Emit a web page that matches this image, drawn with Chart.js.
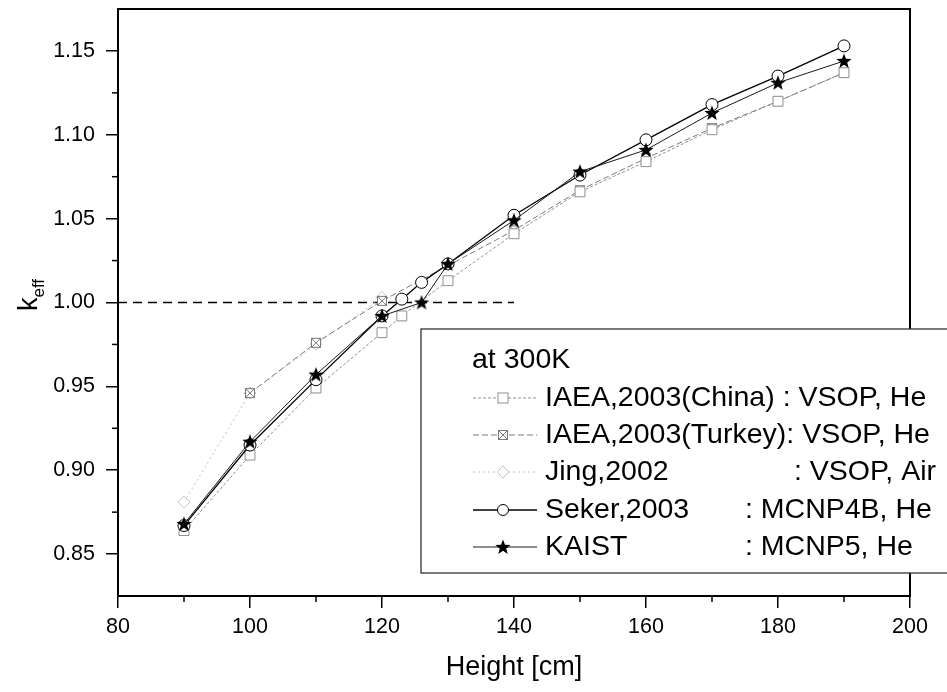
<!DOCTYPE html>
<html>
<head>
<meta charset="utf-8">
<script src="https://cdn.jsdelivr.net/npm/chart.js@4.4.1/dist/chart.umd.min.js"></script>
<style>
  html, body { margin: 0; padding: 0; background: #fff; }
  #wrap { position: relative; width: 947px; height: 692px; }
</style>
</head>
<body>
<div id="wrap"><canvas id="keffChart" width="947" height="692"></canvas></div>
<script>
// k_eff vs core height
const chinaH = [90, 100, 110, 120, 123, 130, 140, 150, 160, 170, 180, 190];
const chinaK = [0.864, 0.909, 0.949, 0.982, 0.992, 1.013, 1.041, 1.066, 1.084, 1.103, 1.120, 1.137];

const turkeyH = [100, 110, 120, 140, 150, 160, 170, 180, 190];
const turkeyK = [0.946, 0.976, 1.001, 1.043, 1.067, 1.086, 1.104, 1.120, 1.137];

const jingH = [90, 100, 110, 120];
const jingK = [0.881, 0.946, 0.975, 1.003];

const sekerH = [90, 100, 110, 120, 123, 126, 130, 140, 150, 160, 170, 180, 190];
const sekerK = [0.867, 0.915, 0.954, 0.992, 1.002, 1.012, 1.023, 1.052, 1.076, 1.097, 1.118, 1.135, 1.153];

const kaistH = [90, 100, 110, 120, 126, 130, 140, 150, 160, 170, 180, 190];
const kaistK = [0.868, 0.917, 0.957, 0.992, 1.000, 1.023, 1.049, 1.078, 1.091, 1.113, 1.131, 1.144];

// critical line k = 1.00 drawn from 80 to 140 cm
const critH = [80, 140];
const critK = [1.0, 1.0];

const xTicks = [80, 100, 120, 140, 160, 180, 200];
const yTicks = [0.85, 0.90, 0.95, 1.00, 1.05, 1.10, 1.15];

const legendTitle = "at 300K";
const legendNames = ["IAEA,2003(China)", "IAEA,2003(Turkey)", "Jing,2002", "Seker,2003", "KAIST"];
const legendNotes = [" : VSOP, He", ": VSOP, He", ": VSOP, Air", ": MCNP4B, He", ": MCNP5, He"];

const FONT = "'Liberation Sans', Arial, Helvetica, sans-serif";

const toPoints = (xs, ys) => xs.map((x, i) => ({ x: x, y: ys[i] }));

// filled star marker
const makeStar = (size, color) => {
  const c = document.createElement("canvas");
  c.width = size; c.height = size;
  const g = c.getContext("2d");
  const cx = size / 2, cy = size / 2 + 0.5, ro = size / 2, ri = ro * 0.42;
  g.beginPath();
  for (let i = 0; i < 10; i++) {
    const r = i % 2 ? ri : ro;
    const a = -Math.PI / 2 + (i * Math.PI) / 5;
    g.lineTo(cx + r * Math.cos(a), cy + r * Math.sin(a));
  }
  g.closePath();
  g.fillStyle = color;
  g.fill();
  return c;
};

// square with an X inside
const makeCrossSquare = (size, color) => {
  const c = document.createElement("canvas");
  c.width = size; c.height = size;
  const g = c.getContext("2d");
  g.fillStyle = "#fff";
  g.fillRect(1, 1, size - 2, size - 2);
  g.strokeStyle = color;
  g.lineWidth = 1;
  g.strokeRect(1.5, 1.5, size - 3, size - 3);
  g.beginPath();
  g.moveTo(2, 2); g.lineTo(size - 2, size - 2);
  g.moveTo(size - 2, 2); g.lineTo(2, size - 2);
  g.stroke();
  return c;
};

const starImg = makeStar(16, "#000");
const crossImg = makeCrossSquare(12, "#7a7a7a");

const series = [
  { name: "china", data: toPoints(chinaH, chinaK), color: "#8f8f8f", dash: [3, 2], width: 1,
    style: "rect", radius: 7, bg: "#fff", order: 2 },
  { name: "turkey", data: toPoints(turkeyH, turkeyK), color: "#7a7a7a", dash: [6, 3], width: 1,
    style: crossImg, radius: 6, bg: "#fff", order: 3 },
  { name: "jing", data: toPoints(jingH, jingK), color: "#c2c2c2", dash: [2, 3], width: 1,
    style: "rectRot", radius: 6, bg: "#fff", order: 4 },
  { name: "seker", data: toPoints(sekerH, sekerK), color: "#000", dash: [], width: 1.3,
    style: "circle", radius: 6, bg: "#fff", order: 1 },
  { name: "kaist", data: toPoints(kaistH, kaistK), color: "#1a1a1a", dash: [], width: 1,
    style: starImg, radius: 8, bg: "#000", order: 0 },
];

const datasets = series.map((s) => ({
  label: s.name,
  data: s.data,
  borderColor: s.color,
  borderWidth: s.width,
  borderDash: s.dash,
  pointStyle: s.style,
  pointRadius: s.radius,
  pointBackgroundColor: s.bg,
  pointBorderColor: s.color,
  pointBorderWidth: 1,
  fill: false,
  tension: 0,
  order: s.order,
}));

datasets.push({
  label: "critical",
  data: toPoints(critH, critK),
  borderColor: "#000",
  borderWidth: 1.6,
  borderDash: [9, 6],
  pointRadius: 0,
  fill: false,
  order: 5,
});

const drawLine = (ctx, x1, y1, x2, y2) => {
  ctx.beginPath();
  ctx.moveTo(x1, y1);
  ctx.lineTo(x2, y2);
  ctx.stroke();
};

// frame, minor ticks, y title and the boxed legend
const decorPlugin = {
  id: "decor",
  afterDraw(chart) {
    const { ctx, chartArea: a, scales } = chart;
    const x = scales.x, y = scales.y;
    ctx.save();

    ctx.strokeStyle = "#000";
    ctx.lineWidth = 2;
    ctx.setLineDash([]);
    ctx.strokeRect(a.left, a.top, a.right - a.left, a.bottom - a.top);

    // minor ticks halfway between the major ones
    ctx.lineWidth = 1.5;
    for (let i = 0; i < xTicks.length - 1; i++) {
      const px = x.getPixelForValue((xTicks[i] + xTicks[i + 1]) / 2);
      drawLine(ctx, px, a.bottom, px, a.bottom + 6);
    }
    for (let i = 0; i < yTicks.length - 1; i++) {
      const py = y.getPixelForValue((yTicks[i] + yTicks[i + 1]) / 2);
      drawLine(ctx, a.left - 6, py, a.left, py);
    }

    // y title k_eff
    ctx.save();
    ctx.translate(37, 311);
    ctx.rotate(-Math.PI / 2);
    ctx.fillStyle = "#000";
    ctx.textBaseline = "alphabetic";
    ctx.font = "27px " + FONT;
    ctx.fillText("k", 0, 0);
    const kw = ctx.measureText("k").width;
    ctx.font = "17px " + FONT;
    ctx.fillText("eff", kw, 7);
    ctx.restore();

    // legend box
    const bx = 421, by = 329, bb = 573;
    ctx.fillStyle = "#fff";
    ctx.fillRect(bx, by, 947 - bx + 5, bb - by);
    ctx.strokeStyle = "#333";
    ctx.lineWidth = 1.3;
    ctx.strokeRect(bx, by, 947 - bx + 10, bb - by);

    const legendFont = "28.5px " + FONT;
    ctx.fillStyle = "#000";
    ctx.font = legendFont;
    ctx.textBaseline = "middle";
    ctx.textAlign = "left";
    ctx.fillText(legendTitle, 472, 360);

    const rowY = [398, 435, 472, 510, 547];
    const textX = 545;
    legendNames.forEach((name, i) => {
      const s = series[i];
      const ry = rowY[i];
      ctx.strokeStyle = s.color;
      ctx.lineWidth = s.width;
      ctx.setLineDash(s.dash);
      drawLine(ctx, 473, ry, 537, ry);
      ctx.setLineDash([]);
      const mx = 503;
      // marker
      if (s.style === "rect") {
        ctx.fillStyle = "#fff";
        ctx.fillRect(mx - 5, ry - 5, 10, 10);
        ctx.lineWidth = 1;
        ctx.strokeRect(mx - 5, ry - 5, 10, 10);
      } else if (s.style === "rectRot") {
        ctx.fillStyle = "#fff";
        ctx.beginPath();
        ctx.moveTo(mx, ry - 6); ctx.lineTo(mx + 6, ry); ctx.lineTo(mx, ry + 6); ctx.lineTo(mx - 6, ry);
        ctx.closePath();
        ctx.fill();
        ctx.lineWidth = 1;
        ctx.stroke();
      } else if (s.style === "circle") {
        ctx.fillStyle = "#fff";
        ctx.beginPath();
        ctx.arc(mx, ry, 5.5, 0, Math.PI * 2);
        ctx.fill();
        ctx.lineWidth = 1;
        ctx.stroke();
      } else {
        ctx.drawImage(s.style, mx - s.style.width / 2, ry - s.style.height / 2);
      }

      ctx.fillStyle = "#000";
      ctx.font = legendFont;
      ctx.textAlign = "left";
      ctx.fillText(name, textX, ry);
      const note = legendNotes[i];
      if (i <= 1) {
        ctx.fillText(note, textX + ctx.measureText(name).width, ry);
      } else if (i >= 3) {
        ctx.fillText(note, 745, ry);
      } else {
        ctx.textAlign = "right";
        ctx.fillText(note, 936, ry);
      }
    });

    ctx.restore();
  },
};

const config = {
  type: "line",
  data: { datasets: datasets },
  options: {
    responsive: false,
    animation: false,
    devicePixelRatio: 1,
    layout: { padding: { top: 9, right: 37, left: 0, bottom: 0 } },
    plugins: {
      legend: { display: false },
      tooltip: { enabled: false },
    },
    scales: {
      x: {
        type: "linear",
        min: 80,
        max: 200,
        afterBuildTicks: (s) => { s.ticks = xTicks.map((v) => ({ value: v })); },
        afterFit: (s) => { s.height = 96; s.paddingLeft = 0; s.paddingRight = 0; },
        grid: { display: true, drawOnChartArea: false, drawTicks: true, tickLength: 12, color: "#000", lineWidth: 1.5 },
        border: { display: true, color: "#000", width: 2 },
        ticks: {
          color: "#000",
          padding: 6,
          maxRotation: 0,
          font: { family: FONT, size: 21.5 },
          callback: (v) => String(v),
        },
        title: {
          display: true,
          text: "Height [cm]",
          color: "#000",
          font: { family: FONT, size: 27 },
          padding: { top: 4, bottom: 8 },
        },
      },
      y: {
        type: "linear",
        min: 0.825,
        max: 1.175,
        afterBuildTicks: (s) => { s.ticks = yTicks.map((v) => ({ value: v })); },
        afterFit: (s) => { s.width = 118; s.paddingTop = 0; s.paddingBottom = 0; },
        grid: { display: true, drawOnChartArea: false, drawTicks: true, tickLength: 12, color: "#000", lineWidth: 1.5 },
        border: { display: true, color: "#000", width: 2 },
        ticks: {
          color: "#000",
          padding: 11,
          font: { family: FONT, size: 21.5 },
          callback: (v) => Number(v).toFixed(2),
        },
      },
    },
  },
  plugins: [decorPlugin],
};

const ctx = document.getElementById("keffChart").getContext("2d");
const keffChart = new Chart(ctx, config);
</script>
</body>
</html>
